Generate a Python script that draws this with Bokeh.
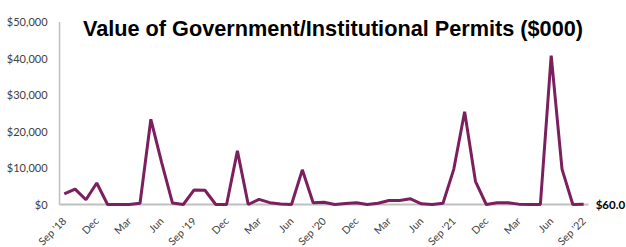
import numpy as np
from bokeh.plotting import figure
from bokeh.models import Label, Range1d, ColumnDataSource
from bokeh.core.properties import value
from bokeh.embed import file_html
from bokeh.resources import INLINE

title_text = "Value of Government/Institutional Permits ($000)"

months = ["Sep '18", "Oct", "Nov", "Dec", "Jan", "Feb", "Mar", "Apr", "May", "Jun", "Jul", "Aug",
          "Sep '19", "Oct", "Nov", "Dec", "Jan", "Feb", "Mar", "Apr", "May", "Jun", "Jul", "Aug",
          "Sep '20", "Oct", "Nov", "Dec", "Jan", "Feb", "Mar", "Apr", "May", "Jun", "Jul", "Aug",
          "Sep '21", "Oct", "Nov", "Dec", "Jan", "Feb", "Mar", "Apr", "May", "Jun", "Jul", "Aug",
          "Sep '22"]

values = [2900, 4200, 1300, 5900, 0, 0, 0, 350, 23350, 11500, 400, 0,
          4000, 3900, 0, 0, 14700, 0, 1400, 500, 150, 0, 9500, 500,
          600, 0, 250, 500, 0, 350, 1100, 1100, 1550, 200, 0, 350,
          9700, 25400, 6350, 0, 450, 500, 100, 0, 0, 40800, 9700, 0,
          60]

y_ticks = [0, 10000, 20000, 30000, 40000, 50000]
y_tick_labels = ["$" + format(v, ",") for v in y_ticks]
end_label = "$60.0"

x = list(range(len(values)))
tick_idx = list(range(0, len(values), 3))
axis_x, axis_x_end = -0.44, 48.45
y_min, y_max = 0, 50000

p = figure(width=626, height=247, output_backend="svg", toolbar_location=None,
           x_range=Range1d(-5.896, 51.96), y_range=Range1d(-11781, 55890),
           min_border=0)
p.outline_line_color = None
p.grid.grid_line_color = None
p.xaxis.visible = False
p.yaxis.visible = False

# axis lines
p.line([axis_x, axis_x], [y_min, y_max], line_color="#BFBFBF", line_width=1.5)
p.line([axis_x, axis_x_end], [y_min, y_min], line_color="#BFBFBF", line_width=2)
# data
p.line(x, values, line_color="#7B1F5E", line_width=3)

# value-axis labels
ysrc = ColumnDataSource(dict(x=[axis_x] * len(y_ticks), y=y_ticks, t=y_tick_labels))
p.text(x="x", y="y", text="t", source=ysrc, text_align="right", text_baseline="middle",
       x_offset=-12, text_font=value("Lato"), text_font_size="11px", text_color="#404040")

# category labels below the baseline
xsrc = ColumnDataSource(dict(x=tick_idx, y=[y_min] * len(tick_idx),
                             t=[months[i] for i in tick_idx]))
p.text(x="x", y="y", text="t", source=xsrc, angle=np.pi / 4,
       text_align="right", text_baseline="middle", x_offset=0, y_offset=14.5,
       text_font=value("Lato"), text_font_size="10.5px", text_color="#404040")

p.add_layout(Label(x=24.83, y=48100, text=title_text, text_align="center",
                   text_baseline="alphabetic", text_font="Liberation Sans",
                   text_font_style="bold", text_font_size="21.7px", text_color="#000000"))
p.add_layout(Label(x=48, y=0, x_offset=12, text=end_label, text_align="left",
                   text_baseline="middle", text_font="Lato", text_font_style="bold",
                   text_font_size="11.5px", text_color="#000000"))

open("out.html", "w").write(file_html(p, INLINE))
